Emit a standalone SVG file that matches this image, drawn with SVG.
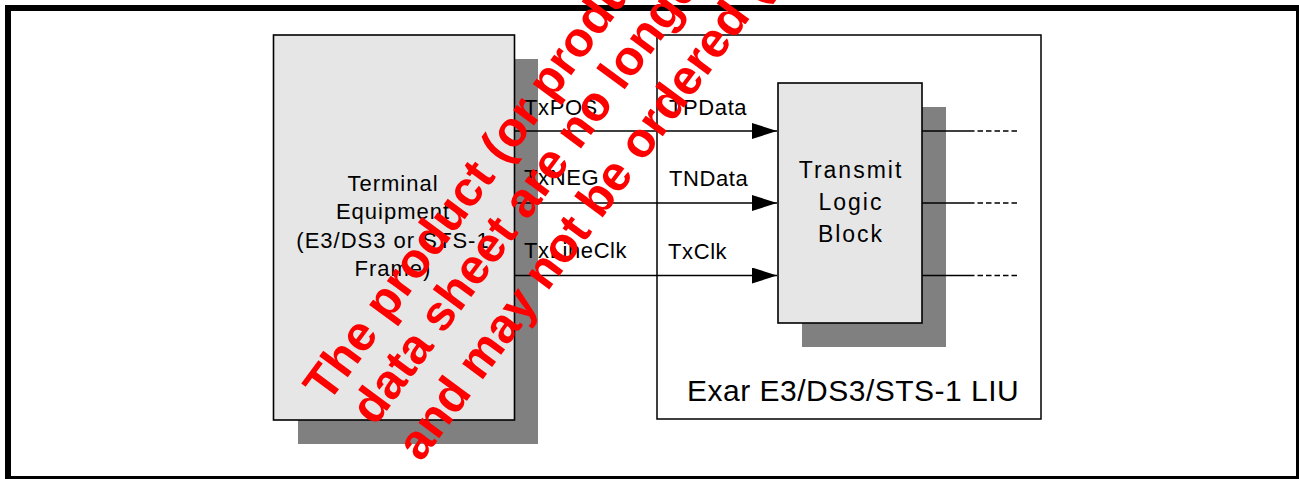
<svg xmlns="http://www.w3.org/2000/svg" width="1299" height="479" viewBox="0 0 1299 479">
<style>
.box{fill:#e6e6e6;stroke:#000;stroke-width:1.6}
.shadow{fill:#808080}
.lbl{font-family:"Liberation Sans",Arial,sans-serif;font-size:22px;fill:#000;letter-spacing:0.6px}
.ttl{font-family:"Liberation Sans",Arial,sans-serif;font-size:22px;fill:#000;letter-spacing:1px;text-anchor:middle}
.blk{font-family:"Liberation Sans",Arial,sans-serif;font-size:23px;fill:#000;letter-spacing:2px;text-anchor:middle}
.wire{stroke:#000;stroke-width:1.5;fill:none}
.dash{stroke:#000;stroke-width:1.5;fill:none;stroke-dasharray:5.5 3}
.wm{font-family:"Liberation Sans",Arial,sans-serif;font-weight:bold;font-size:49px;fill:#ff0000}
</style>
<defs>
<marker id="arr" markerUnits="userSpaceOnUse" markerWidth="26" markerHeight="18" refX="25" refY="8" orient="auto">
<path d="M0,0 L25,8 L0,16 z" fill="#000"/>
</marker>
</defs>
<rect x="0" y="0" width="1299" height="479" fill="#fff"/>
<rect id="frame" x="8" y="8" width="1291" height="471" fill="none" stroke="#000" stroke-width="6"/>
<g id="liu">
<rect x="657" y="35" width="384" height="384" fill="#fff" stroke="#000" stroke-width="1.5"/>
<text x="687" y="401" style="font-family:'Liberation Sans',Arial,sans-serif;font-size:30px;letter-spacing:0.5px" fill="#000">Exar E3/DS3/STS-1 LIU</text>
</g>
<g id="terminal">
<rect class="shadow" x="298" y="59" width="240" height="385"/>
<rect class="box" x="273.5" y="35" width="241" height="385"/>
<text class="ttl" x="393" y="190.5">Terminal</text>
<text class="ttl" x="393" y="219">Equipment</text>
<text class="ttl" x="393" y="247.5">(E3/DS3 or STS-1</text>
<text class="ttl" x="393" y="276">Frame)</text>
</g>
<g id="transmit">
<rect class="shadow" x="802" y="107" width="144" height="240"/>
<rect class="box" x="778" y="83" width="144" height="240"/>
<text class="blk" x="851" y="178">Transmit</text>
<text class="blk" x="851" y="210">Logic</text>
<text class="blk" x="851" y="242">Block</text>
</g>
<g id="connectors">
<line class="wire" x1="514" y1="131" x2="777" y2="131" marker-end="url(#arr)"/>
<line class="wire" x1="514" y1="203" x2="777" y2="203" marker-end="url(#arr)"/>
<line class="wire" x1="514" y1="275.5" x2="777" y2="275.5" marker-end="url(#arr)"/>
<line class="wire" x1="922" y1="131" x2="969" y2="131"/>
<line class="wire" x1="922" y1="203" x2="969" y2="203"/>
<line class="wire" x1="922" y1="275.5" x2="969" y2="275.5"/>
<line class="dash" x1="969" y1="131" x2="1019" y2="131"/>
<line class="dash" x1="969" y1="203" x2="1019" y2="203"/>
<line class="dash" x1="969" y1="275.5" x2="1019" y2="275.5"/>
<text class="lbl" x="524" y="115">TxPOS</text>
<text class="lbl" x="524" y="185">TxNEG</text>
<text class="lbl" x="524" y="257.5">TxLineClk</text>
<text class="lbl" x="669" y="115">TPData</text>
<text class="lbl" x="669" y="185.5">TNData</text>
<text class="lbl" x="668" y="259">TxClk</text>
</g>
<g id="watermark">
<text class="wm" x="328" y="404" transform="rotate(-53.5 328 404)">The product (or produ</text>
<text class="wm" x="375" y="427" transform="rotate(-53.5 375 427)">data sheet are no longe</text>
<text class="wm" x="421" y="463" transform="rotate(-53.5 421 463)">and may not be ordered (</text>
</g>
</svg>
